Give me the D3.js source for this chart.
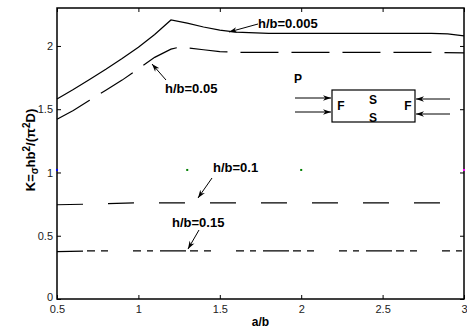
<!DOCTYPE html>
<html>
<head>
<meta charset="utf-8">
<script src="https://cdn.jsdelivr.net/npm/d3@7"></script>
<style>
  body { margin: 0; background: #fff; }
  svg { display: block; font-family: "Liberation Sans", Arial, sans-serif; }
</style>
</head>
<body>
<svg id="chart" width="467" height="335"></svg>
<script>
// a/b sample points and K values
const abSolid = [0.5, 0.6, 0.7, 0.8, 0.9, 1.0, 1.1, 1.2, 1.3, 1.4, 1.5, 1.6, 1.8, 2.0, 2.2, 2.4, 2.6, 2.8, 2.9, 3.0];
const k005 = [1.58, 1.655, 1.735, 1.815, 1.9, 1.99, 2.09, 2.205, 2.18, 2.15, 2.125, 2.11, 2.10, 2.10, 2.10, 2.10, 2.10, 2.10, 2.095, 2.08];
const ab05 = [0.5, 0.6, 0.7, 0.8, 0.9, 1.0, 1.1, 1.2, 1.25, 1.3, 1.4, 1.5, 1.6, 1.8, 2.0, 2.2, 2.4, 2.6, 2.8, 3.0];
const k05 = [1.42, 1.49, 1.57, 1.65, 1.73, 1.82, 1.91, 1.975, 1.99, 1.985, 1.97, 1.955, 1.95, 1.95, 1.95, 1.95, 1.95, 1.95, 1.95, 1.945];
const abFlat = [0.5, 0.7, 1.0, 1.5, 2.0, 2.5, 3.0];
const k1 = [0.745, 0.75, 0.76, 0.76, 0.76, 0.76, 0.76];
const k15 = [0.375, 0.38, 0.38, 0.38, 0.38, 0.38, 0.38];
// stray markers at K ~ 1.02
const dotAb = [0.5, 1.3, 2.0, 3.0];
const dotK = [1.02, 1.02, 1.02, 1.02];
const dotColor = ["#0000ff", "#008000", "#008000", "#ff00ff"];

const xTicks = [0.5, 1, 1.5, 2, 2.5, 3];
const yTicks = [0, 0.5, 1, 1.5, 2];

const margin = {top: 8, right: 3, bottom: 36, left: 57};
const width = 467 - margin.left - margin.right;
const height = 335 - margin.top - margin.bottom;

const svg = d3.select("#chart");
const g = svg.append("g").attr("transform", `translate(${margin.left},${margin.top})`);

const x = d3.scaleLinear().domain([0.5, 3]).range([0, width]);
const y = d3.scaleLinear().domain([0, 2.3]).range([height, 0]);

// axes (ticks inward, mirrored on top/right)
const styleAxis = sel => {
  sel.select(".domain").remove();
  sel.selectAll("line").attr("stroke", "#000");
  sel.selectAll("text").attr("font-size", 11).attr("fill", "#222");
};
g.append("g").attr("transform", `translate(0,${height})`)
  .call(d3.axisBottom(x).tickValues(xTicks).tickFormat(d3.format("")).tickSize(-4).tickPadding(6))
  .call(styleAxis);
g.append("g")
  .call(d3.axisLeft(y).tickValues(yTicks).tickFormat(d3.format("")).tickSize(-4).tickPadding(4))
  .call(styleAxis)
  .selectAll("text").filter(d => d === 0).attr("dy", "0.1em");
g.append("g")
  .call(d3.axisTop(x).tickValues(xTicks).tickFormat("").tickSize(-4))
  .call(styleAxis);
g.append("g").attr("transform", `translate(${width},0)`)
  .call(d3.axisRight(y).tickValues(yTicks).tickFormat("").tickSize(-4))
  .call(styleAxis);
g.append("rect").attr("width", width).attr("height", height)
  .attr("fill", "none").attr("stroke", "#000").attr("stroke-width", 1.5);

const line = d3.line().x(d => x(d[0])).y(d => y(d[1]));
const series = [
  {ab: abSolid, k: k005, dash: null},
  {ab: ab05, k: k05, dash: "38,13"},
  {ab: abFlat, k: k1, dash: "26,25"},
  {ab: abFlat, k: k15, dash: "26,4,8,6,7,25,8,6,6,7"}
];
series.forEach(s => {
  g.append("path")
    .attr("d", line(d3.zip(s.ab, s.k)))
    .attr("fill", "none").attr("stroke", "#000").attr("stroke-width", 1.2)
    .attr("stroke-dasharray", s.dash);
});

g.selectAll(".dot").data(d3.zip(dotAb, dotK, dotColor)).join("rect")
  .attr("x", d => x(d[0]) - 1).attr("y", d => y(d[1]) - 1)
  .attr("width", 2).attr("height", 2).attr("fill", d => d[2]);

// arrow marker
svg.append("defs").append("marker")
  .attr("id", "arr").attr("viewBox", "-10 -5 12 10")
  .attr("refX", 0).attr("refY", 0)
  .attr("markerWidth", 10).attr("markerHeight", 8)
  .attr("markerUnits", "userSpaceOnUse").attr("orient", "auto")
  .append("path").attr("d", "M0,0 L-10,-3.5 L-7,0 L-10,3.5 Z").attr("fill", "#000");

const arrow = (x1, y1, x2, y2) => svg.append("line")
  .attr("x1", x1).attr("y1", y1).attr("x2", x2).attr("y2", y2)
  .attr("stroke", "#000").attr("stroke-width", 1).attr("marker-end", "url(#arr)");

const label = (tx, ty, txt, anchor = "start") => svg.append("text")
  .attr("x", tx).attr("y", ty).attr("text-anchor", anchor)
  .attr("font-size", 13).attr("font-weight", "bold").text(txt);

// curve annotations
label(258, 28, "h/b=0.005");
arrow(258, 24, 229, 32);
label(165, 93, "h/b=0.05");
arrow(166, 80, 152, 64);
label(213, 172, "h/b=0.1");
arrow(212, 178, 198, 198);
label(172, 227, "h/b=0.15");
arrow(199, 230, 188, 249);

// inset sketch of the plate
svg.append("rect").attr("x", 332).attr("y", 90).attr("width", 83).attr("height", 32)
  .attr("fill", "none").attr("stroke", "#000").attr("stroke-width", 1.2);
label(298, 83, "P", "middle").attr("font-size", 12);
label(341, 110, "F", "middle").attr("font-size", 12);
label(408, 110, "F", "middle").attr("font-size", 12);
label(373, 104, "S", "middle").attr("font-size", 12);
label(373, 122, "S", "middle").attr("font-size", 12);
arrow(295, 98, 331, 98);
arrow(295, 112, 331, 112);
arrow(450, 99, 416, 99);
arrow(450, 114, 416, 114);

// axis titles
svg.append("text").attr("x", margin.left + width / 2).attr("y", 326)
  .attr("text-anchor", "middle").attr("font-size", 12).attr("font-weight", "bold").text("a/b");

const yl = svg.append("text").attr("transform", "translate(35,150) rotate(-90)")
  .attr("text-anchor", "middle").attr("font-size", 13).attr("font-weight", "bold");
yl.append("tspan").text("K=");
yl.append("tspan").attr("dy", 3).attr("font-size", 10).text("σ");
yl.append("tspan").attr("dy", -3).text("hb");
yl.append("tspan").attr("dy", -5).attr("font-size", 10).text("2");
yl.append("tspan").attr("dy", 5).text("/(");
yl.append("tspan").text("π");
yl.append("tspan").attr("dy", -5).attr("font-size", 10).text("2");
yl.append("tspan").attr("dy", 5).text("D)");
</script>
</body>
</html>
